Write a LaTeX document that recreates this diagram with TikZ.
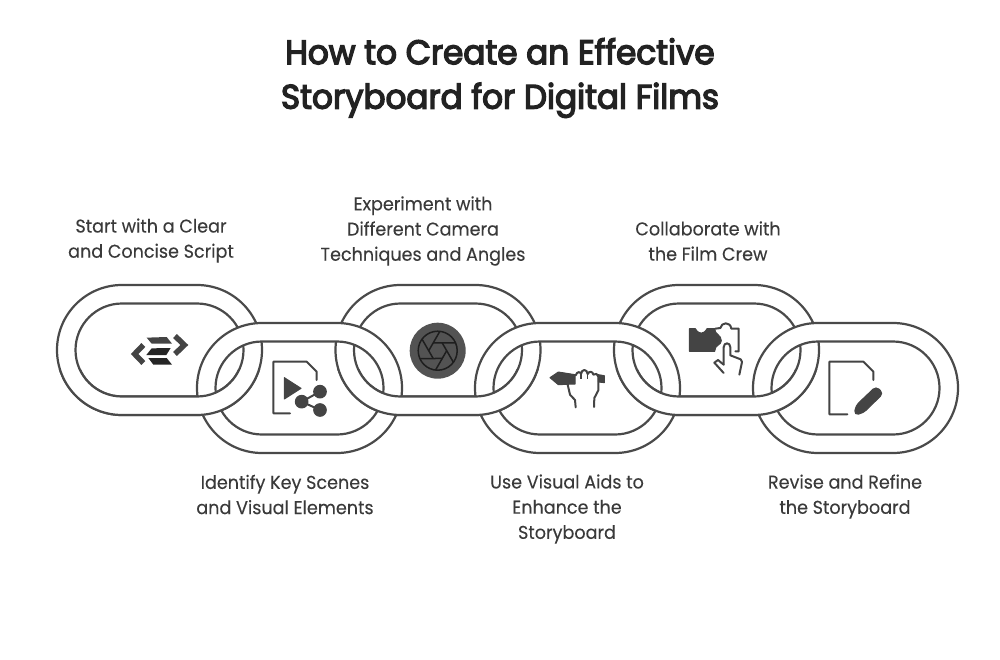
\documentclass[tikz,border=0pt]{standalone}
\usepackage{fontspec}
\setmainfont{Poppins}
\newfontfamily\titlefont[FakeStretch=0.96,FakeBold=4]{Poppins}
\newfontfamily\labelfont[FakeStretch=0.95,FakeBold=0.12]{Poppins}
\usepackage{xcolor}
\definecolor{ringgray}{HTML}{4A4A4A}
\definecolor{icondark}{HTML}{444444}
\definecolor{bladedark}{HTML}{1E1E1E}
\definecolor{titleink}{HTML}{222222}
\definecolor{labelink}{HTML}{3A3A3A}
\usetikzlibrary{calc}
\tikzset{
  chainlink/.style={draw=ringgray, line width=2.2pt, fill=white, even odd rule},
  iconline/.style={draw=icondark, line width=2pt, line join=round, line cap=round},
  iconfill/.style={fill=icondark, draw=icondark, line width=1pt, line join=round},
  steplabel/.style={labelink, align=center, font=\labelfont\fontsize{18.5}{25.2}\selectfont},
  zoomed/.style={shift={#1}, scale=1/3}
}
\newcommand{\ringpath}[2]{
  [rounded corners=65pt] (#1,#2) rectangle ++(205,130)
  [rounded corners=46.5pt] ($(#1,#2)+(18.5,18.5)$) rectangle ++(168,93)
}

\begin{document}
\begin{tikzpicture}[x=1pt, y=-1pt]
  \useasboundingbox (0,0) rectangle (1000,660);

  % title
  \node[titleink, align=center, font=\titlefont\fontsize{34}{44.5}\selectfont] (title) at (500,78) {How to Create an Effective\\Storyboard for Digital Films};

  % upper links, then lower links, then the bottom of the upper links again
  \foreach \x in {57,335.5,614} \path[chainlink] \ringpath{\x}{285};
  \foreach \x in {197,475,753} \path[chainlink] \ringpath{\x}{323};
  \begin{scope}
    \clip (0,369) rectangle (1000,660);
    \foreach \x in {57,335.5,614} \path[chainlink] \ringpath{\x}{285};
  \end{scope}

  % labels
  \node[steplabel] (script) at (151,240.5) {Start with a Clear\\and Concise Script};
  \node[steplabel] (camera) at (423,231) {Experiment with\\Different Camera\\Techniques and Angles};
  \node[steplabel] (crew) at (708,241) {Collaborate with\\the Film Crew};
  \node[steplabel] (scenes) at (285,494.5) {Identify Key Scenes\\and Visual Elements};
  \node[steplabel] (aids) at (567,509) {Use Visual Aids to\\Enhance the\\Storyboard};
  \node[steplabel] (revise) at (845,496.5) {Revise and Refine\\the Storyboard};

  % script icon
  \begin{scope}[zoomed={(125,325)}]
    \draw[iconline, line width=5.5pt, line cap=butt, line join=miter] (55,60) -- (29,87) -- (55,114);
    \draw[iconline, line width=5.5pt, line cap=butt, line join=miter] (150,33) -- (178,60) -- (150,87);
    \fill[icondark] (65,38) -- (125,36) -- (141,56) -- (80,56) -- cycle;
    \fill[bladedark!80!icondark] (80,70) -- (137,69) -- (124,90) -- (64,90) -- cycle;
    \fill[bladedark!80!icondark] (70,99) -- (125,99) -- (141,119) -- (85,119) -- cycle;
  \end{scope}

  % scenes icon
  \begin{scope}[zoomed={(265,355)}]
    \draw[iconline] (155,75) -- (155,50) -- (125,20) -- (25,20) -- (25,175) -- (75,175);
    \path[iconfill] (58,68) -- (58,132) -- (108,100) -- cycle;
    \draw[iconline] (165,110) -- (110,140) -- (165,165);
    \path[iconfill] (165,110) circle (19);
    \path[iconfill] (110,140) circle (19);
    \path[iconfill] (165,165) circle (19);
  \end{scope}

  % camera icon
  \fill[icondark!92!white] (437.7,350.7) circle (28);
  \begin{scope}[shift={(437.7,350.7)}]
    \draw[bladedark, line width=1.5pt] (0,0) circle (19.5);
    \foreach \a in {0,60,...,300}
      \draw[bladedark, line width=1.5pt] (\a:9) -- (\a+96.4:19.5);
  \end{scope}

  % aids icon
  \begin{scope}[zoomed={(545,362)}]
    \path[iconfill] (15,47) -- (40,30) -- (90,38) -- (90,66) -- (40,68) -- cycle;
    \path[iconfill] (160,38) -- (178,41) -- (178,62) -- (160,60) -- cycle;
    \draw[iconline] (92,40) .. controls (96,28) and (106,28) .. (108,36) .. controls (110,20) and (126,20) .. (128,36) .. controls (132,26) and (144,28) .. (145,38) .. controls (150,32) and (160,36) .. (160,44) -- (160,85) -- (148,108) -- (147,135);
    \draw[iconline] (68,68) -- (75,98) -- (90,114) -- (92,136);
    \draw[icondark, line width=1.2pt] (108,36) -- (108,52) (128,36) -- (128,52);
  \end{scope}

  % crew icon
  \begin{scope}[zoomed={(682,318)}]
    \path[iconfill] (22,32) -- (40,32) .. controls (50,50) and (65,50) .. (75,32) -- (98,32) .. controls (98,50) and (118,50) .. (118,68) .. controls (118,82) and (98,80) .. (98,100) -- (22,100) -- cycle;
    \draw[iconline] (100,32) -- (115,30) .. controls (118,12) and (145,10) .. (148,32) -- (170,32) -- (170,100) -- (160,100);
    \draw[iconline] (125,140) -- (125,88) .. controls (125,72) and (145,72) .. (145,88) -- (145,112) -- (176,124) -- (180,132) -- (172,170);
    \draw[iconline] (125,140) -- (108,126) -- (97,134) -- (125,165);
  \end{scope}

  % revise icon
  \begin{scope}[zoomed={(820,355)}]
    \draw[iconline] (160,75) -- (160,50) -- (130,20) -- (28,20) -- (28,178) -- (82,178);
    \path[iconfill, rounded corners=4pt] (103,180) -- (107,152) -- (168,94) -- (190,115) -- (130,174) -- cycle;
  \end{scope}
\end{tikzpicture}
\end{document}
